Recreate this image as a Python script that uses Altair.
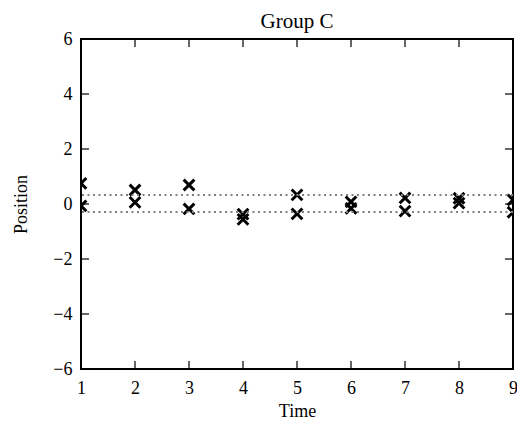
import altair as alt
import pandas as pd

# data
time = [1, 1, 2, 2, 3, 3, 4, 4, 5, 5, 6, 6, 7, 7, 8, 8, 9, 9]
position = [0.75, -0.07, 0.51, 0.06, 0.69, -0.18, -0.37, -0.56, 0.33, -0.36,
            0.08, -0.16, 0.22, -0.26, 0.21, 0.03, 0.15, -0.30]
band_levels = [0.33, -0.29]
x_ticks = [1, 2, 3, 4, 5, 6, 7, 8, 9]
y_ticks = [-6, -4, -2, 0, 2, 4, 6]

W, H = 432, 330
TICK = 8
FONT = "Liberation Serif"
LFS = 18   # label / axis-title size
TFS = 21   # chart title size

df = pd.DataFrame({"time": time, "position": position})
df_band = pd.DataFrame({"position": band_levels})
df_xt = pd.DataFrame({"time": x_ticks})
df_yt = pd.DataFrame({"position": y_ticks})

xs = alt.Scale(domain=[1, 9], nice=False, zero=False)
ys = alt.Scale(domain=[-6, 6], nice=False, zero=False)

x_axis = alt.Axis(
    values=x_ticks, ticks=False, domain=False, grid=False, labelFlush=False,
    labelPadding=24, labelBaseline="alphabetic", labelFontSize=LFS,
    labelFont=FONT, labelColor="black",
    title="Time", titleFont=FONT, titleFontSize=LFS, titleFontWeight="normal",
    titleColor="black", titleX=W / 2, titleY=47, titleBaseline="alphabetic",
    titleAlign="center", format="d")
y_axis = alt.Axis(
    values=y_ticks, ticks=False, domain=False, grid=False, labelFlush=False,
    labelPadding=9, labelFontSize=LFS, labelFont=FONT, labelColor="black",
    title="Position", titleFont=FONT, titleFontSize=LFS, titleFontWeight="normal",
    titleColor="black", titleX=-60, titleY=H / 2, titleAngle=-90,
    titleBaseline="middle", titleAlign="center", format="d")

X = alt.X("time:Q", scale=xs, axis=x_axis)
Y = alt.Y("position:Q", scale=ys, axis=y_axis)

points = alt.Chart(df).mark_point(
    shape="M-1,-1L1,1M-1,1L1,-1", filled=False, stroke="black",
    strokeWidth=3, size=115, opacity=1, clip=True
).encode(x=X, y=Y)

bands = alt.Chart(df_band).mark_rule(
    color="#808080", strokeWidth=2, strokeDash=[2, 3.5]
).encode(y=Y)

tick_style = dict(color="black", strokeWidth=1.2)
bottom_ticks = alt.Chart(df_xt).mark_rule(**tick_style).encode(
    x=X, y=alt.value(H), y2=alt.value(H - TICK))
top_ticks = alt.Chart(df_xt).mark_rule(**tick_style).encode(
    x=X, y=alt.value(0), y2=alt.value(TICK))
left_ticks = alt.Chart(df_yt).mark_rule(**tick_style).encode(
    y=Y, x=alt.value(0), x2=alt.value(TICK))
right_ticks = alt.Chart(df_yt).mark_rule(**tick_style).encode(
    y=Y, x=alt.value(W), x2=alt.value(W - TICK))

chart = alt.layer(
    points, bands, bottom_ticks, top_ticks, left_ticks, right_ticks
).properties(
    width=W, height=H,
    title=alt.TitleParams("Group C", font=FONT, fontSize=TFS, fontWeight="normal",
                          color="black", anchor="middle", offset=-2),
    autosize=alt.AutoSizeParams(type="none"),
    padding={"left": 73, "top": 31, "right": 4, "bottom": 52},
).configure(
    background="white",
    view=alt.ViewConfig(stroke="black", strokeWidth=2),
)

chart.save("out.html", embed_options={"renderer": "svg", "actions": False})
